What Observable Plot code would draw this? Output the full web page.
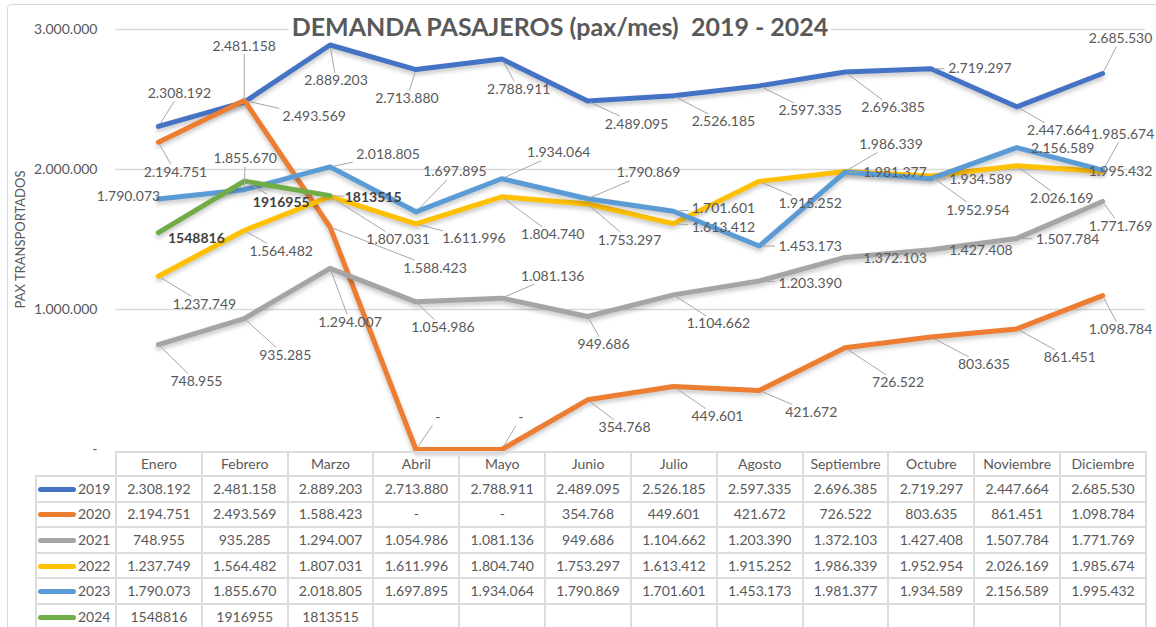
<!DOCTYPE html>
<html><head><meta charset="utf-8">
<script src="https://cdn.jsdelivr.net/npm/d3@7"></script>
<script src="https://cdn.jsdelivr.net/npm/@observablehq/plot@0.6"></script>
<style>
body{margin:0;background:#fff;font-family:Lato,"Liberation Sans",sans-serif;}
#wrap{position:relative;width:1156px;height:627px;overflow:hidden;background:#fff;}
#frame{position:absolute;left:7px;top:4px;width:1170px;height:660px;border:1px solid #d9d9d9;border-radius:4px;}
#chart{position:absolute;left:0;top:0;}
#title{position:absolute;top:14px;left:0;width:1120px;text-align:center;line-height:24px;pointer-events:none;}
#title span{background:#fff;padding:0 3px;font-weight:700;font-size:25px;color:#595959;white-space:pre;}
#tbl{position:absolute;left:35px;top:451px;border-collapse:collapse;table-layout:fixed;font-size:14px;color:#595959;font-family:Lato,sans-serif;}
#tbl td{border:2px solid #dcdcdc;text-align:center;padding:0;white-space:nowrap;overflow:hidden;line-height:1;}
#tbl tr.hd{height:24px;}
#tbl tr.rw{height:25.6px;}
#tbl td.corner{border-top:hidden;border-left:hidden;}
#tbl td.leg{text-align:left;padding-left:1px;}
#tbl .key{display:inline-block;width:38px;height:5px;border-radius:3px;vertical-align:middle;margin-right:2px;position:relative;top:-1px;}
</style>
</head><body>
<div id="wrap">
  <div id="frame"></div>
  <div id="chart"></div>
  <div id="title"><span>DEMANDA PASAJEROS (pax/mes)  2019 - 2024</span></div>
</div>
<script>
const months = ["Enero","Febrero","Marzo","Abril","Mayo","Junio","Julio","Agosto","Septiembre","Octubre","Noviembre","Diciembre"];
const years = ["2019","2020","2021","2022","2023","2024"];
const colors = ["#4472C4","#ED7D31","#A5A5A5","#FFC000","#5B9BD5","#70AD47"];
const yTicks = [0,1000000,2000000,3000000];

const v2019 = [2308192,2481158,2889203,2713880,2788911,2489095,2526185,2597335,2696385,2719297,2447664,2685530];
const v2020 = [2194751,2493569,1588423,0,0,354768,449601,421672,726522,803635,861451,1098784];
const v2021 = [748955,935285,1294007,1054986,1081136,949686,1104662,1203390,1372103,1427408,1507784,1771769];
const v2022 = [1237749,1564482,1807031,1611996,1804740,1753297,1613412,1915252,1986339,1952954,2026169,1985674];
const v2023 = [1790073,1855670,2018805,1697895,1934064,1790869,1701601,1453173,1981377,1934589,2156589,1995432];
const v2024 = [1548816,1916955,1813515];
const series = [v2019,v2020,v2021,v2022,v2023,v2024];

// label placement (pixel offsets of each data label from its point)
const off2019 = [[21,-33],[0,-56],[6,36],[-9,29],[17,30],[49,23],[50,26],[51,25],[48,36],[49,0],[42,24],[18,-35]];
const off2020 = [[17,30],[70,16],[105,41],[22,-32],[19,-32],[37,28],[44,30],[52,22],[53,35],[53,28],[53,29],[18,34]];
const off2021 = [[38,37],[41,37],[20,54],[27,26],[51,-22],[16,28],[45,29],[51,2],[50,1],[50,1],[51,1],[18,25]];
const off2022 = [[46,28],[37,21],[68,43],[58,15],[51,38],[42,36],[50,4],[51,22],[46,-27],[47,34],[45,33],[20,-37]];
const off2023 = [[-30,-2],[1,-31],[58,-12],[39,-40],[57,-26],[61,-26],[50,-3],[51,0],[50,0],[50,1],[46,1],[18,1]];
const off2024 = [[38,6],[37,21],[43,2]];
const offsets = [off2019,off2020,off2021,off2022,off2023,off2024];

const W = 1156, H = 460, ML = 115, MR = 11, MT = 29, MB = 11;
const YMAX = 3000000;
const pxX = (W - ML - MR) / 12;
const pxY = (H - MT - MB) / YMAX;

const dotFmt = d => d === 0 ? "-" : d3.format(",")(d).replace(/,/g, ".");
const labelFmt = (s, v) => s === 5 ? String(v) : dotFmt(v);

const pts = [], labels = [], leaders = [];
series.forEach((vals, s) => {
  vals.forEach((v, i) => {
    pts.push({year: years[s], s, i, v});
    const [dx, dy] = offsets[s][i];
    const text = labelFmt(s, v);
    labels.push({s, text, x: i + dx / pxX, y: v - dy / pxY, bold: s === 5});
    const hw = text.length * 3.6 + 3, hh = 8;
    const ax = Math.abs(dx), ay = Math.abs(dy);
    const t = Math.min(ax > 0 ? hw / ax : Infinity, ay > 0 ? hh / ay : Infinity);
    const len = Math.hypot(dx, dy);
    if (t < 1 && len * (1 - t) > 12) {
      const s0 = 3 / len, s1 = 1 - t;
      leaders.push({x1: i + dx * s0 / pxX, y1: v - dy * s0 / pxY, x2: i + dx * s1 / pxX, y2: v - dy * s1 / pxY});
    }
  });
});

const lineMarks = series.map((vals, s) =>
  Plot.line(pts.filter(d => d.s === s), {x: "i", y: "v", stroke: colors[s], strokeWidth: 5, strokeLinejoin: "round", strokeLinecap: "round"})
);

const plot = Plot.plot({
  width: W, height: H,
  marginLeft: ML, marginRight: MR, marginTop: MT, marginBottom: MB,
  style: {fontFamily: "Lato, sans-serif", fontSize: "14px", color: "#595959", background: "transparent", overflow: "visible"},
  x: {domain: [-0.5, 11.5], axis: null},
  y: {domain: [0, YMAX], ticks: yTicks, tickFormat: dotFmt, tickSize: 0, tickPadding: 18, label: null},
  marks: [
    Plot.ruleY(yTicks.filter(d => d > 0), {stroke: "#d9d9d9", strokeWidth: 1.5}),
    Plot.text(["PAX TRANSPORTADOS"], {frameAnchor: "left", textAnchor: "middle", dx: -95, rotate: -90, fontSize: 13, fill: "#595959"}),
    ...lineMarks,
    Plot.link(leaders, {x1: "x1", y1: "y1", x2: "x2", y2: "y2", stroke: "#a6a6a6", strokeWidth: 1}),
    Plot.text(labels.filter(d => !d.bold), {x: "x", y: "y", text: "text", fill: "#595959", fontSize: 14}),
    Plot.text(labels.filter(d => d.bold), {x: "x", y: "y", text: "text", fill: "#404040", fontSize: 14, fontWeight: "bold"})
  ]
});
plot.querySelectorAll('g[aria-label="line"]').forEach(g => g.style.filter = "drop-shadow(0px 3px 2px rgba(0,0,0,0.22))");
document.getElementById("chart").appendChild(plot);

// data table below the chart
const tbl = document.createElement("table");
tbl.id = "tbl";
const cg = document.createElement("colgroup");
const c0 = document.createElement("col"); c0.style.width = (ML - 35) + "px"; cg.appendChild(c0);
months.forEach(() => { const c = document.createElement("col"); c.style.width = pxX + "px"; cg.appendChild(c); });
tbl.appendChild(cg);
const hr = document.createElement("tr"); hr.className = "hd";
const corner = document.createElement("td"); corner.className = "corner"; hr.appendChild(corner);
months.forEach(m => { const td = document.createElement("td"); td.textContent = m; hr.appendChild(td); });
tbl.appendChild(hr);
series.forEach((vals, s) => {
  const tr = document.createElement("tr"); tr.className = "rw";
  const lg = document.createElement("td"); lg.className = "leg";
  const key = document.createElement("span"); key.className = "key"; key.style.background = colors[s];
  lg.appendChild(key); lg.appendChild(document.createTextNode(years[s]));
  tr.appendChild(lg);
  months.forEach((m, i) => {
    const td = document.createElement("td");
    td.textContent = i < vals.length ? labelFmt(s, vals[i]) : "";
    tr.appendChild(td);
  });
  tbl.appendChild(tr);
});
document.getElementById("wrap").appendChild(tbl);
</script>
</body></html>
